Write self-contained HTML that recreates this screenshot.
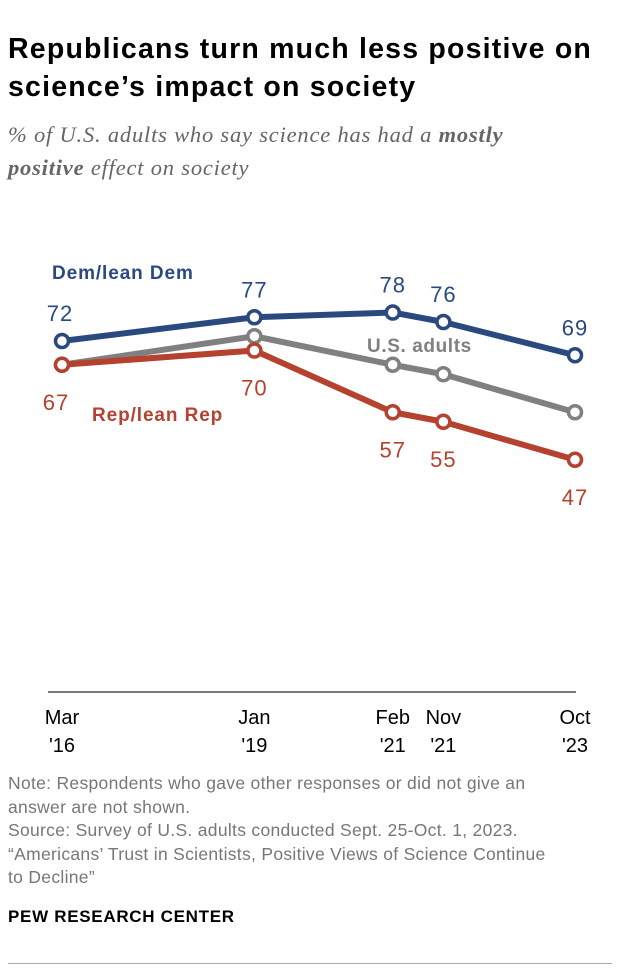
<!DOCTYPE html>
<html><head><meta charset="utf-8">
<style>
body{margin:0;background:#fff;width:620px;height:968px;overflow:hidden;font-family:"Liberation Sans",sans-serif;position:relative}
.t{position:absolute;left:8px;top:30px;font-size:28.5px;letter-spacing:1.2px;font-weight:bold;line-height:38px;color:#000;width:615px}
.s{position:absolute;left:8px;top:118px;font-family:"Liberation Serif",serif;font-style:italic;font-size:22.5px;letter-spacing:0.8px;line-height:33px;color:#666;width:570px}
.n{position:absolute;left:8px;top:772px;font-size:17.5px;letter-spacing:0.3px;line-height:23.5px;color:#777;width:610px;white-space:nowrap}
.p{position:absolute;left:8px;top:907px;font-size:17px;letter-spacing:0.7px;font-weight:bold;color:#000}
.rule{position:absolute;left:8px;top:963px;width:604px;height:1px;background:#aaa}
</style></head><body>
<div class="t">Republicans turn much less positive on science’s impact on society</div>
<div class="s">% of U.S. adults who say science has had a <b>mostly positive</b> effect on society</div>
<svg id="c" width="620" height="768" style="position:absolute;left:0;top:0"></svg>
<div class="n">Note: Respondents who gave other responses or did not give an<br>answer are not shown.<br>Source: Survey of U.S. adults conducted Sept. 25-Oct. 1, 2023.<br>“Americans’ Trust in Scientists, Positive Views of Science Continue<br>to Decline”</div>
<div class="p">PEW RESEARCH CENTER</div>
<div class="rule"></div>
<script>
const categories=["Mar '16","Jan '19","Feb '21","Nov '21","Oct '23"];
const catX=[2016.2,2019.05,2021.1,2021.85,2023.8];
const demValues=[72,77,78,76,69];
const repValues=[67,70,57,55,47];
const usValues=[67,73,67,65,57];
const svg=document.getElementById('c');
const NS='http://www.w3.org/2000/svg';
function x(t){return 62+(t-2016.2)*(575-62)/(2023.8-2016.2);}
function y(v){return 683-4.75*v;}
function el(tag,attrs,txt){const e=document.createElementNS(NS,tag);for(const k in attrs)e.setAttribute(k,attrs[k]);if(txt!==undefined)e.textContent=txt;svg.appendChild(e);return e;}
const ax=el('line',{x1:48,x2:576,y1:692,y2:692,stroke:'#777','stroke-width':2});


categories.forEach((c,i)=>{const parts=c.split(' ');
const t=el('text',{x:x(catX[i]),y:724,'text-anchor':'middle','font-size':20,fill:'#000'},parts[0]);


const t2=el('text',{x:x(catX[i]),y:752,'text-anchor':'middle','font-size':20,fill:'#000'},parts[1]);

});
function series(vals,col,name){
const pts=vals.map((v,i)=>x(catX[i])+','+y(v)).join(' ');
const l=el('polyline',{points:pts,fill:'none',stroke:col,'stroke-width':6,'stroke-linejoin':'round'});


vals.forEach((v,i)=>{const c=el('circle',{cx:x(catX[i]),cy:y(v),r:6.5,fill:'#fff',stroke:col,'stroke-width':3.5});

});
}
series(usValues,'#808080','us-adults');
series(repValues,'#b5412f','rep');
series(demValues,'#2a4a7f','dem');
demValues.forEach((v,i)=>{const t=el('text',{x:x(catX[i])+(i==0?-2:0),y:y(v)-20,'text-anchor':'middle','font-size':22,'letter-spacing':1,fill:'#2a4a7f'},v);

});
repValues.forEach((v,i)=>{const t=el('text',{x:x(catX[i])+(i==0?-6:0),y:y(v)+45,'text-anchor':'middle','font-size':22,'letter-spacing':1,fill:'#b5412f'},v);

});
const a=el('text',{x:52,y:279,'font-size':19,'letter-spacing':0.9,'font-weight':'bold',fill:'#2a4a7f'},'Dem/lean Dem');


const b=el('text',{x:92,y:421,'font-size':19,'letter-spacing':0.9,'font-weight':'bold',fill:'#b5412f'},'Rep/lean Rep');


const u=el('text',{x:367,y:352,'font-size':19,'letter-spacing':0.6,'font-weight':'bold',fill:'#808080'},'U.S. adults');


</script>
</body></html>
